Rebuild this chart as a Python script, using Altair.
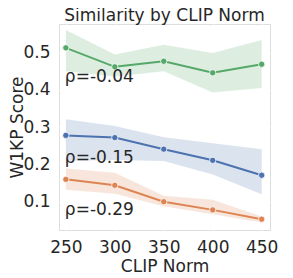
import altair as alt
import pandas as pd

norms = [250, 300, 350, 400, 450]

green_mean = [0.513, 0.462, 0.477, 0.446, 0.469]
green_lo = [0.450, 0.436, 0.450, 0.393, 0.405]
green_hi = [0.561, 0.495, 0.521, 0.499, 0.534]

blue_mean = [0.278, 0.272, 0.241, 0.211, 0.171]
blue_lo = [0.210, 0.212, 0.209, 0.173, 0.120]
blue_hi = [0.321, 0.303, 0.273, 0.257, 0.241]

orange_mean = [0.160, 0.144, 0.100, 0.078, 0.053]
orange_lo = [0.132, 0.121, 0.088, 0.066, 0.044]
orange_hi = [0.189, 0.178, 0.116, 0.105, 0.060]

series_names = ["green", "blue", "orange"]
series_colors = ["#55A868", "#4C72B0", "#DD8452"]

rho_labels = ["\u03c1=-0.04", "\u03c1=-0.15", "\u03c1=-0.29"]
rho_y = [0.422, 0.2045, 0.0633]
rho_x = [250, 250, 250]

rows = []
for name, m, lo, hi in zip(series_names,
                           [green_mean, blue_mean, orange_mean],
                           [green_lo, blue_lo, orange_lo],
                           [green_hi, blue_hi, orange_hi]):
    for x, a, b, c in zip(norms, m, lo, hi):
        rows.append({"norm": x, "score": a, "lo": b, "hi": c, "series": name})
df = pd.DataFrame(rows)
ann = pd.DataFrame({"norm": rho_x, "score": rho_y, "label": rho_labels})

FONT = "DejaVu Sans"
TXT = "#262626"
W, H = 211, 206

xscale = alt.Scale(domain=[243, 458.5], nice=False, zero=False)
yscale = alt.Scale(domain=[0.024, 0.577], nice=False, zero=False)
cscale = alt.Scale(domain=series_names, range=series_colors)

x = alt.X("norm:Q", scale=xscale, title="CLIP Norm",
          axis=alt.Axis(values=norms, format="d", labelFontSize=17, titleFontSize=17,
                        labelPadding=9, ticks=False, domain=False,
                        gridColor="white", gridWidth=1.3, labelColor=TXT, titleColor=TXT,
                        labelFont=FONT, titleFont=FONT, titleFontWeight="normal",
                        titleBaseline="alphabetic", titleY=41, titleX=W / 2,
                        titleAlign="center"))
y = alt.Y("score:Q", scale=yscale, title="W1KP Score",
          axis=alt.Axis(values=[0.1, 0.2, 0.3, 0.4, 0.5], format=".1f", labelFontSize=17,
                        titleFontSize=17, labelPadding=9, ticks=False,
                        domain=False, gridColor="white", gridWidth=1.3, labelColor=TXT,
                        titleColor=TXT, labelFont=FONT, titleFont=FONT,
                        titleFontWeight="normal", titleBaseline="alphabetic",
                        titleAngle=270, titleAlign="center", titleX=-37, titleY=H / 2))

base = alt.Chart(df)
bands = base.mark_area(opacity=0.2).encode(
    x=x, y=alt.Y("lo:Q", scale=yscale), y2="hi:Q",
    color=alt.Color("series:N", scale=cscale, legend=None))
lines = base.mark_line(strokeWidth=2).encode(
    x=x, y=y, color=alt.Color("series:N", scale=cscale, legend=None))
points = base.mark_point(filled=True, size=40, opacity=1, stroke="white",
                         strokeWidth=0.8).encode(
    x=x, y=y, fill=alt.Fill("series:N", scale=cscale, legend=None))
texts = alt.Chart(ann).mark_text(align="left", baseline="alphabetic", fontSize=17,
                                 font=FONT, color=TXT, dx=-1).encode(
    x=alt.X("norm:Q", scale=xscale), y=alt.Y("score:Q", scale=yscale), text="label:N")

chart = alt.layer(bands, lines, points, texts).properties(
    width=W, height=H,
    title=alt.TitleParams("Similarity by CLIP Norm", fontSize=17, font=FONT,
                          fontWeight="normal", color=TXT, offset=-1),
    autosize=alt.AutoSizeParams(type="none"),
    padding={"left": 51, "top": 16, "right": 14, "bottom": 45},
).configure_view(fill="#EAEAF2", stroke=None).configure(background="white")

chart.save("out.html", embed_options={"renderer": "svg", "actions": False})
